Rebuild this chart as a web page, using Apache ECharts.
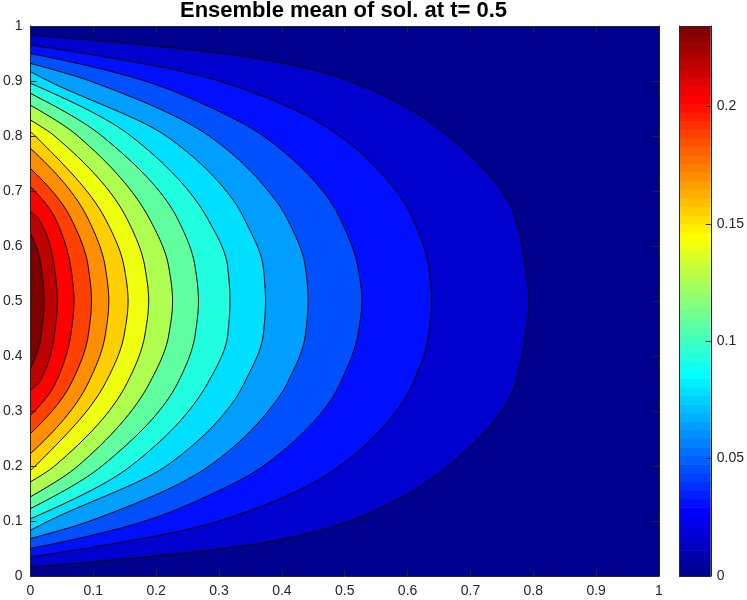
<!DOCTYPE html>
<html><head><meta charset="utf-8">
<script src="https://cdn.jsdelivr.net/npm/echarts@6/dist/echarts.min.js"></script>
<style>html,body{margin:0;padding:0;background:#fff}#c{width:747px;height:600px}</style>
</head><body><div id="c"></div>
<script>
const titleText = 'Ensemble mean of sol. at t= 0.5';
const xTicks = [0, 0.1, 0.2, 0.3, 0.4, 0.5, 0.6, 0.7, 0.8, 0.9, 1];
const yTicks = [0, 0.1, 0.2, 0.3, 0.4, 0.5, 0.6, 0.7, 0.8, 0.9, 1];
const cbarTicks = [0, 0.05, 0.1, 0.15, 0.2];
const cbarMax = 0.2343;
const levels = [0.015, 0.03, 0.045, 0.06, 0.075, 0.09, 0.105, 0.12, 0.135, 0.15, 0.165, 0.18, 0.195, 0.21, 0.225];

// lower half of each contour line [x, y], from its left-edge intercept up to y = 0.5
// (the field is symmetric about y = 0.5)
const c01 = [[0,0.0164],[0.2726,0.0455],[0.378,0.062],[0.508,0.1],[0.6643,0.2],[0.7586,0.317],[0.7716,0.35],[0.7876,0.438],[0.7929,0.5]];
const c02 = [[0,0.0345],[0.300,0.1],[0.4918,0.2],[0.5922,0.317],[0.6081,0.35],[0.6334,0.438],[0.6382,0.5]];
const c03 = [[0,0.050],[0.182,0.1],[0.2726,0.1407],[0.3705,0.2],[0.4760,0.317],[0.4925,0.35],[0.5209,0.438],[0.5273,0.5]];
const c04 = [[0,0.068],[0.0945,0.1],[0.2843,0.2],[0.3899,0.317],[0.4082,0.35],[0.4374,0.438],[0.4417,0.5]];
const c05 = [[0,0.083],[0.0287,0.1],[0.2159,0.2],[0.3228,0.317],[0.3398,0.35],[0.3703,0.438],[0.3740,0.5]];
const c06 = [[0,0.104],[0.1597,0.2],[0.2817,0.35],[0.3138,0.438],[0.3174,0.5]];
const c07 = [[0,0.1225],[0.1137,0.2],[0.2338,0.35],[0.262,0.438],[0.2673,0.5]];
const c08 = [[0,0.144],[0.0754,0.2],[0.1891,0.35],[0.220,0.438],[0.2261,0.5]];
const c09 = [[0,0.171],[0.0383,0.2],[0.1533,0.35],[0.182,0.438],[0.1881,0.5]];
const c10 = [[0,0.192],[0.0077,0.2],[0.1188,0.35],[0.149,0.438],[0.1553,0.5]];
const c11 = [[0,0.2225],[0.0914,0.35],[0.119,0.438],[0.1247,0.5]];
const c12 = [[0,0.259],[0.0645,0.35],[0.092,0.438],[0.0971,0.5]];
const c13 = [[0,0.292],[0.0396,0.35],[0.064,0.438],[0.0693,0.5]];
const c14 = [[0,0.338],[0.0128,0.35],[0.038,0.438],[0.0428,0.5]];
const c15 = [[0,0.377],[0.016,0.43],[0.0217,0.5]];
const contours = [c01,c02,c03,c04,c05,c06,c07,c08,c09,c10,c11,c12,c13,c14,c15];

// fill colour of each band: below level 1, between levels 1-2, ... above level 15
const bandColors = ['#00008F','#0000CF','#0010FF','#0050FF','#009FFF','#00DFFF','#20FFDF','#60FF9F',
                    '#AFFF50','#EFFF10','#FFCF00','#FF8F00','#FF4000','#FF0000','#BF0000','#800000'];

// MATLAB jet(64) colormap for the colour bar
function jet64() {
  const m = 64, n = 16, cols = [];
  for (let i = 0; i < m; i++) cols.push([0, 0, 0]);
  const u = [];
  for (let k = 1; k <= 16; k++) u.push(k / 16);
  for (let k = 0; k < 15; k++) u.push(1);
  for (let k = 16; k >= 1; k--) u.push(k / 16);
  for (let k = 0; k < u.length; k++) {
    const g = 8 + k, r = g + n, b = g - n;
    if (g >= 0 && g < m) cols[g][1] = u[k];
    if (r >= 0 && r < m) cols[r][0] = u[k];
    if (b >= 0 && b < m) cols[b][2] = u[k];
  }
  return cols.map(c => 'rgb(' + c.map(v => Math.round(v * 255)).join(',') + ')');
}
const cmap = jet64();

const FONT = '"Liberation Sans", Arial, Helvetica, sans-serif';
const AX = '#262626';

// shape-preserving (pchip) slopes for drawing a smooth curve x(y) through the read points
function pchipSlopes(t, v) {
  const n = t.length, h = [], del = [], d = new Array(n).fill(0);
  for (let k = 0; k < n - 1; k++) { h.push(t[k + 1] - t[k]); del.push((v[k + 1] - v[k]) / h[k]); }
  for (let k = 1; k < n - 1; k++) {
    if (del[k - 1] * del[k] > 0) {
      const w1 = 2 * h[k] + h[k - 1], w2 = h[k] + 2 * h[k - 1];
      d[k] = (w1 + w2) / (w1 / del[k - 1] + w2 / del[k]);
    }
  }
  const endSlope = (h0, h1, d0, d1) => {
    let s = ((2 * h0 + h1) * d0 - h0 * d1) / (h0 + h1);
    if (Math.sign(s) !== Math.sign(d0)) s = 0;
    else if (Math.sign(d0) !== Math.sign(d1) && Math.abs(s) > Math.abs(3 * d0)) s = 3 * d0;
    return s;
  };
  if (n > 2) {
    d[0] = endSlope(h[0], h[1], del[0], del[1]);
    d[n - 1] = endSlope(h[n - 2], h[n - 3], del[n - 2], del[n - 3]);
  } else { d[0] = d[1] = del[0]; }
  return d;
}

function contourItem(params, api) {
  const k = api.value(0);
  const half = contours[k];
  const ys = [], xs = [];
  half.forEach(p => { ys.push(p[1]); xs.push(p[0]); });
  for (let i = half.length - 2; i >= 0; i--) { ys.push(1 - half[i][1]); xs.push(half[i][0]); }
  const d = pchipSlopes(ys, xs);
  const pts = [api.coord([-0.05, ys[0]])];
  for (let i = 0; i < ys.length - 1; i++) {
    const hh = ys[i + 1] - ys[i], steps = 16;
    for (let s = 0; s < steps; s++) {
      const u = s / steps, u2 = u * u, u3 = u2 * u;
      const x = (2 * u3 - 3 * u2 + 1) * xs[i] + (u3 - 2 * u2 + u) * hh * d[i] +
                (-2 * u3 + 3 * u2) * xs[i + 1] + (u3 - u2) * hh * d[i + 1];
      pts.push(api.coord([x, ys[i] + u * hh]));
    }
  }
  pts.push(api.coord([xs[xs.length - 1], ys[ys.length - 1]]));
  pts.push(api.coord([-0.05, ys[ys.length - 1]]));
  const cs = params.coordSys;
  return {
    type: 'polygon',
    shape: { points: pts },
    style: { fill: bandColors[k + 1], stroke: '#000', lineWidth: 1, lineJoin: 'round' },
    clipPath: { type: 'rect', shape: { x: cs.x, y: cs.y, width: cs.width, height: cs.height } }
  };
}

function cbarItem(params, api) {
  const i = api.value(0);
  const lo = api.coord([0, i * cbarMax / 64]);
  const hi = api.coord([1, (i + 1) * cbarMax / 64]);
  return {
    type: 'rect',
    shape: { x: lo[0], y: hi[1], width: hi[0] - lo[0], height: lo[1] - hi[1] + 0.6 },
    style: { fill: cmap[i] }
  };
}

const tickStyle = { color: AX, width: 1 };
const labelStyle = { color: AX, fontSize: 14, fontFamily: FONT };

const chart = echarts.init(document.getElementById('c'), null, { renderer: 'canvas' });
chart.setOption({
  animation: false,
  backgroundColor: '#fff',
  graphic: [{
    type: 'text', x: 343.5, y: 11, z: 100,
    style: { text: titleText, font: 'bold 22px ' + FONT, fill: '#000',
             align: 'center', verticalAlign: 'middle', textAlign: 'center', textVerticalAlign: 'middle' }
  }],
  grid: [
    { left: 28, top: 26, width: 631, height: 550, show: true, backgroundColor: bandColors[0], borderWidth: 0 },
    { left: 679.5, top: 26, width: 32, height: 550, show: false }
  ],
  xAxis: [
    { gridIndex: 0, type: 'value', min: 0, max: 1, position: 'bottom', z: 10,
      axisLine: { show: true, onZero: false, lineStyle: tickStyle },
      axisTick: { show: true, inside: true, length: 6, customValues: xTicks, lineStyle: tickStyle },
      axisLabel: { show: true, margin: 8, customValues: xTicks, ...labelStyle },
      splitLine: { show: false } },
    { gridIndex: 0, type: 'value', min: 0, max: 1, position: 'top', z: 10,
      axisLine: { show: true, onZero: false, lineStyle: tickStyle },
      axisTick: { show: true, inside: true, length: 6, customValues: xTicks, lineStyle: tickStyle },
      axisLabel: { show: false }, splitLine: { show: false } },
    { gridIndex: 1, type: 'value', min: 0, max: 1, position: 'bottom', z: 10,
      axisLine: { show: true, onZero: false, lineStyle: tickStyle },
      axisTick: { show: false }, axisLabel: { show: false }, splitLine: { show: false } },
    { gridIndex: 1, type: 'value', min: 0, max: 1, position: 'top', z: 10,
      axisLine: { show: true, onZero: false, lineStyle: tickStyle },
      axisTick: { show: false }, axisLabel: { show: false }, splitLine: { show: false } }
  ],
  yAxis: [
    { gridIndex: 0, type: 'value', min: 0, max: 1, position: 'left', z: 10,
      axisLine: { show: true, onZero: false, lineStyle: tickStyle },
      axisTick: { show: true, inside: true, length: 6, customValues: yTicks, lineStyle: tickStyle },
      axisLabel: { show: true, margin: 8, customValues: yTicks, ...labelStyle },
      splitLine: { show: false } },
    { gridIndex: 0, type: 'value', min: 0, max: 1, position: 'right', z: 10,
      axisLine: { show: true, onZero: false, lineStyle: tickStyle },
      axisTick: { show: true, inside: true, length: 6, customValues: yTicks, lineStyle: tickStyle },
      axisLabel: { show: false }, splitLine: { show: false } },
    { gridIndex: 1, type: 'value', min: 0, max: cbarMax, position: 'right', z: 10,
      axisLine: { show: true, onZero: false, lineStyle: tickStyle },
      axisTick: { show: true, inside: true, length: 5, customValues: cbarTicks, lineStyle: tickStyle },
      axisLabel: { show: true, margin: 6, customValues: cbarTicks, ...labelStyle },
      splitLine: { show: false } },
    { gridIndex: 1, type: 'value', min: 0, max: cbarMax, position: 'left', z: 10,
      axisLine: { show: true, onZero: false, lineStyle: tickStyle },
      axisTick: { show: false }, axisLabel: { show: false }, splitLine: { show: false } }
  ],
  series: [
    { type: 'custom', name: 'contours', xAxisIndex: 0, yAxisIndex: 0, z: 2,
      data: contours.map((c, i) => [i]), renderItem: contourItem, silent: true },
    { type: 'custom', name: 'colorbar', xAxisIndex: 2, yAxisIndex: 2, z: 2,
      data: cmap.map((c, i) => [i]), renderItem: cbarItem, silent: true }
  ]
});
</script>
</body></html>
